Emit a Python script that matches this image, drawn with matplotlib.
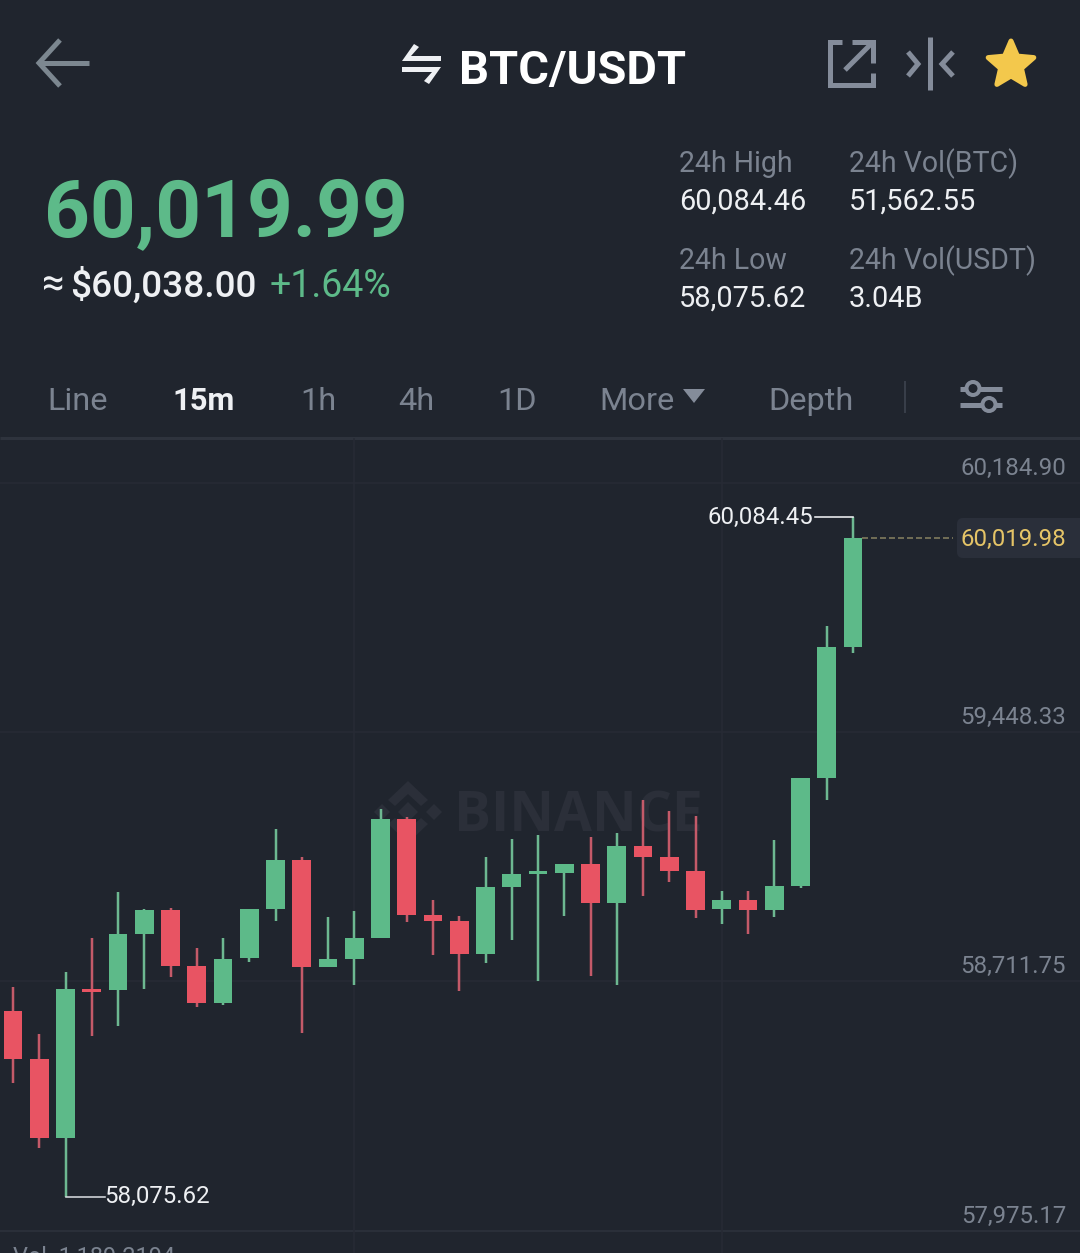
import numpy as np
import matplotlib
matplotlib.use("Agg")
import matplotlib.pyplot as plt
from matplotlib.patches import Polygon, FancyBboxPatch, Circle

plt.rcParams["font.family"] = ["Roboto", "DejaVu Sans"]

# Candles, left to right
opens = [58624.6, 58481.0, 58249.4, 58687.8, 58686.6, 58852.1, 58922.0, 58755.7, 58647.3, 58779.4, 58925.0,
         59069.8, 58753.7, 58776.4, 58839.4, 59190.9, 58907.3, 58889.6, 58791.2, 58990.0, 59029.3,
         59031.4, 59058.0, 58941.8, 59111.1, 59079.5, 59037.3, 58925.9, 58951.6, 58922.0, 58993.8, 59312.0, 59699.0]
closes = [58481.9, 58249.4, 58687.8, 58680.7, 58852.1, 58922.0, 58756.6, 58647.3, 58778.2, 58924.1, 59068.9,
          58753.7, 58776.4, 58839.4, 59190.9, 58908.2, 58889.6, 58791.2, 58989.1, 59029.3, 59037.3,
          59058.0, 58941.8, 59111.1, 59079.5, 59038.2, 58922.0, 58951.6, 58922.0, 58993.8, 59312.0, 59699.0, 60019.98]
highs = [58695.5, 58555.8, 58738.0, 58840.2, 58975.2, 58924.1, 58927.1, 58808.9, 58838.5, 58924.1, 59161.3,
         59079.5, 58901.4, 58919.1, 59219.5, 59197.7, 58950.7, 58905.2, 59079.5, 59132.7, 59142.7,
         59058.0, 59136.8, 59148.6, 59247.9, 59214.5, 59199.7, 58977.3, 58977.3, 59127.9, 59312.0, 59761.0, 60084.45]
lows = [58411.9, 58219.9, 58075.62, 58550.7, 58579.4, 58688.7, 58725.0, 58636.4, 58640.5, 58769.3, 58890.5,
        58558.7, 58753.7, 58699.6, 58839.4, 58887.5, 58788.2, 58683.7, 58766.4, 58833.4, 58711.4,
        58905.2, 58727.1, 58699.6, 58964.3, 59004.8, 58899.3, 58880.7, 58850.3, 58900.5, 58987.9, 59247.0, 59681.2]

price_ticks = [60184.90, 59448.33, 58711.75, 57975.17]
grid_candles = [13, 27]
last_price = 60019.98

tab_labels = ["Line", "15m", "1h", "4h", "1D", "More", "Depth"]
tab_x = [47, 172, 300, 398, 497, 599, 768]

BG = "#20252E"
GREEN = "#5DBA89"
RED = "#E85463"
WICK_GREEN = "#6DB891"
WICK_RED = "#C45A69"
GREY = "#7B8390"
ICON = "#848C9A"
WHITE = "#EEF0F3"
GRID = "#272B35"
LINE = "#2E333D"
YELLOW = "#E5C467"
MARK = "#2B2F39"

W, H = 1080, 1253
fig = plt.figure(figsize=(W / 100, H / 100), dpi=100, facecolor=BG)


def px(size):
    return size * 0.72


# Overlay in image pixels for the app header and icons
ui = fig.add_axes([0, 0, 1, 1], zorder=1)
ui.set_xlim(0, W)
ui.set_ylim(H, 0)
ui.axis("off")


def txt(x, y, s, size, color, weight="normal", ha="left", family=None):
    ui.text(x, y, s, fontsize=px(size), color=color, fontweight=weight, ha=ha, va="baseline", family=family)


def poly(points, color, **kw):
    ui.add_patch(Polygon(points, closed=True, facecolor=color, edgecolor="none", **kw))


def stroke(xs, ys, color=ICON, lw=4, cap="butt", join="miter"):
    ui.plot(xs, ys, color=color, lw=px(lw), solid_capstyle=cap, solid_joinstyle=join)


# Top bar
stroke([89, 39], [63, 63], "#7C8790", 5)
stroke([60, 39, 60], [40, 63, 86], "#7C8790", 5)
poly([(402, 61), (414, 44), (419, 47), (411, 56), (441, 56), (441, 61)], WHITE)
poly([(402, 67), (441, 67), (429, 84), (424, 81), (432, 72), (402, 72)], WHITE)
txt(459, 84, "BTC/USDT", 47, "#FFFFFF", "bold")

stroke([842, 830, 830, 873, 873], [42, 42, 85, 85, 73], lw=5)
stroke([845, 871], [70, 44], lw=5)
stroke([852, 873, 873], [42, 42, 63], lw=5)
stroke([930, 930], [37, 90], lw=5)
stroke([908, 918, 908], [52, 64, 76], lw=5)
stroke([953, 942, 953], [52, 64, 76], lw=5)

star_angles = np.deg2rad(np.arange(0, 360, 36) - 90)
star_radii = np.array([24, 11] * 5)
star_pts = np.column_stack([1011 + star_radii * np.cos(star_angles), 65 + star_radii * np.sin(star_angles)])
ui.add_patch(Polygon(star_pts, closed=True, facecolor="#F3C84C", edgecolor="#F3C84C", lw=px(5), joinstyle="round"))

# Price block
txt(44, 236.5, "60,019.99", 80, GREEN, "bold")
txt(41, 297, "≈", 40, WHITE)
txt(70, 297, "$60,038.00", 37, WHITE, "medium")
txt(270, 297, "+1.64%", 37.5, GREEN)

txt(679, 172, "24h High", 28.5, GREY)
txt(679, 210, "60,084.46", 29, WHITE)
txt(849, 172, "24h Vol(BTC)", 28.5, GREY)
txt(849, 210, "51,562.55", 29, WHITE)
txt(679, 269, "24h Low", 28.5, GREY)
txt(679, 307, "58,075.62", 29, WHITE)
txt(849, 269, "24h Vol(USDT)", 28.5, GREY)
txt(849, 307, "3.04B", 29, WHITE)

# Tabs
for label, x in zip(tab_labels, tab_x):
    if label == "15m":
        txt(x, 409.5, label, 31, WHITE, "bold")
    else:
        txt(x, 409.5, label, 32.5, GREY)
poly([(683, 389), (705, 389), (694, 403)], ICON)
stroke([904.5, 904.5], [381, 413], "#383E49", 2)
stroke([960, 1002], [388.5, 388.5], lw=5)
stroke([960, 1002], [404.5, 404.5], lw=5)
for cx, cy in [(973, 388.5), (989, 404.5)]:
    ui.add_patch(Circle((cx, cy), 6.5, facecolor=BG, edgecolor=ICON, lw=px(4), zorder=3))
stroke([0, W], [437.5, 437.5], LINE, 3)

# Watermark
poly([(408, 802), (418, 812), (408, 822), (398, 812)], MARK)
poly([(434, 804), (442, 812), (434, 820), (426, 812)], MARK)
poly([(382, 804), (390, 812), (382, 820), (374, 812)], MARK)
poly([(408, 781), (428, 800), (421, 806), (408, 794), (395, 806), (388, 800)], MARK)
poly([(408, 843), (428, 824), (421, 818), (408, 830), (395, 818), (388, 824)], MARK)
txt(454, 831, "BINANCE", 55, MARK, "bold", family="Open Sans")

# Candle chart, its scales set so a candle step is 26.25 px
chart_top_px = 438
px_per_price = 1 / 2.954
ax = fig.add_axes([0, 0, 1, (H - chart_top_px) / H], zorder=2)
ax.patch.set_alpha(0)
for spine in ax.spines.values():
    spine.set_visible(False)
ax.set_xticks([])
ax.set_yticks([])
ax.set_xlim(-13 / 26.25, (W - 13) / 26.25)
ax.set_ylim(price_ticks[0] - (H - 482.5) / px_per_price, price_ticks[0] + (482.5 - chart_top_px) / px_per_price)

for tick in price_ticks:
    ax.axhline(tick, color=GRID if tick != price_ticks[-1] else LINE, lw=px(1.5), zorder=0)
    ax.annotate(f"{tick:,.2f}", (1, tick), xycoords=("axes fraction", "data"), xytext=(-14, 8),
                textcoords="offset pixels", ha="right", va="baseline", fontsize=px(24), color=GREY)
for c in grid_candles:
    ax.axvline(c, color=GRID, lw=px(1.5), zorder=0)

xs = np.arange(len(opens))
up = np.array(closes) >= np.array(opens)
body_colors = [GREEN if u else RED for u in up]
wick_colors = [WICK_GREEN if u else WICK_RED for u in up]
ax.vlines(xs, lows, highs, colors=wick_colors, lw=px(2.5), zorder=2)
bottoms = np.minimum(opens, closes)
heights = np.maximum(np.abs(np.array(closes) - np.array(opens)), 6)
ax.bar(xs, heights, bottom=bottoms, width=0.705, color=body_colors, zorder=3)

# High and low leaders
hi = int(np.argmax(highs))
lo = int(np.argmin(lows))
ax.plot([hi, hi - 1.46], [highs[hi], highs[hi]], color=WHITE, lw=px(1.6), zorder=2)
ax.annotate(f"{highs[hi]:,.2f}", (hi - 1.5, highs[hi]), xytext=(0, -7), textcoords="offset pixels",
            ha="right", va="baseline", fontsize=px(24), color=WHITE)
ax.plot([lo, lo + 1.52], [lows[lo], lows[lo]], color="#D5D9DD", lw=px(1.6), zorder=2)
ax.annotate(f"{lows[lo]:,.2f}", (lo + 1.54, lows[lo]), xytext=(-2, -6), textcoords="offset pixels",
            ha="left", va="baseline", fontsize=px(24), color=WHITE)

# Last price tag
ax.plot([len(opens) - 1 + 0.36, 35.8], [last_price, last_price], color="#6F6C55", lw=px(2), ls=(0, (3, 1.5)), zorder=1)
ui.add_patch(FancyBboxPatch((960, 521), 130, 34, boxstyle="round,pad=3,rounding_size=6", facecolor="#2A2F3A", edgecolor="none"))
ax.annotate(f"{last_price:,.2f}", (1, last_price), xycoords=("axes fraction", "data"), xytext=(-14, -8),
            textcoords="offset pixels", ha="right", va="baseline", fontsize=px(24), color=YELLOW)

# Volume line, cut by the bottom edge as in the screenshot
txt(13, 1264, "Vol  1,189.2194", 23.5, GREY)

fig.savefig("out.png", dpi=100, facecolor=BG)
